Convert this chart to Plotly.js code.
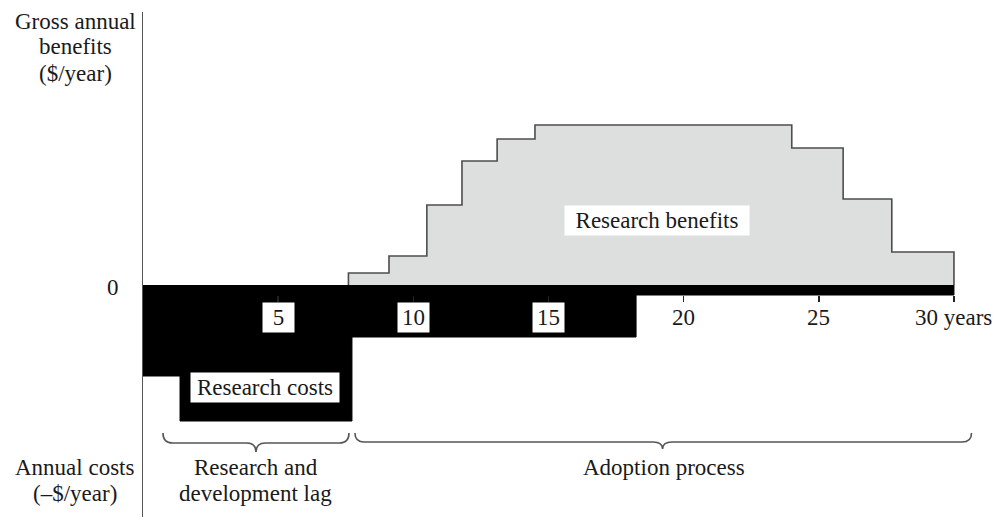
<!DOCTYPE html>
<html>
<head>
<meta charset="utf-8">
<script src="https://cdn.plot.ly/plotly-3.0.1.min.js"></script>
<style>html,body{margin:0;padding:0;background:#fff;}#chart{width:1001px;height:517px;}</style>
</head>
<body>
<div id="chart"></div>
<script>
// Step boundaries (years) and gross annual benefits (arbitrary $/year units)
const benefitYears  = [7.6, 7.6, 9.1, 10.5, 11.8, 13.1, 14.5, 24.0, 25.9, 27.7, 30.0];
const benefitValues = [0, 12, 29, 80, 124, 146, 160, 137, 86, 33, 0];
// Step boundaries (years) and annual costs (negative $/year units)
const costYears  = [0, 0, 1.37, 7.73, 18.24, 30.0];
const costValues = [0, -91, -136, -52, -10, 0];
// Axis tick labels
const tickYears  = [5, 10, 15, 20, 25, 30];
const tickLabels = ["5", "10", "15", "20", "25", "30 years"];
const boxedTicks = [true, true, true, false, false, false];

const FONT = '"Liberation Serif", "Times New Roman", serif';
const FS = 23;
const TXT = '#1a1a1a';

const traces = [
  {x: benefitYears, y: benefitValues, type: 'scatter', mode: 'lines',
   line: {shape: 'hv', color: '#4d4d4d', width: 1.6},
   fill: 'tozeroy', fillcolor: '#dcdfde', hoverinfo: 'skip'},
  {x: costYears, y: costValues, type: 'scatter', mode: 'lines',
   line: {shape: 'hv', color: '#000', width: 1},
   fill: 'tozeroy', fillcolor: '#000', hoverinfo: 'skip'}
];

const ann = [];
tickYears.forEach((t, i) => {
  const a = {x: t, y: -32, xref: 'x', yref: 'y', text: tickLabels[i], showarrow: false,
    font: {family: FONT, size: FS, color: TXT}, xanchor: 'center', yanchor: 'middle'};
  if (boxedTicks[i]) { a.bgcolor = '#fff'; a.width = 29; a.height = 27; }
  ann.push(a);
});
ann.push({x: 4.51, y: -102, xref: 'x', yref: 'y', text: 'Research costs', showarrow: false,
  bgcolor: '#fff', width: 146, height: 27, font: {family: FONT, size: FS, color: TXT}});
ann.push({x: 19.0, y: 65, xref: 'x', yref: 'y', text: 'Research benefits', showarrow: false,
  bgcolor: '#fff', width: 182, height: 27, font: {family: FONT, size: FS, color: TXT}});
// labels below the braces
ann.push({x: 4.18, y: -182, xref: 'x', yref: 'y', text: 'Research and', showarrow: false, font: {family: FONT, size: FS, color: TXT}});
ann.push({x: 4.18, y: -208, xref: 'x', yref: 'y', text: 'development lag', showarrow: false, font: {family: FONT, size: FS, color: TXT}});
ann.push({x: 19.27, y: -182, xref: 'x', yref: 'y', text: 'Adoption process', showarrow: false, font: {family: FONT, size: FS, color: TXT}});

// axis texts outside plot area (paper coords)
const W = 858, H = 505;
function px(x){ return (x - 143) / W; }
function py(y){ return (517 - y) / H; }
[['Gross annual', 21], ['benefits', 47], ['($/year)', 73], ['Annual costs', 467], ['(\u2013$/year)', 493]].forEach(([t, y]) => {
  ann.push({x: px(75), y: py(y), xref: 'paper', yref: 'paper', text: t, showarrow: false,
    xanchor: 'center', yanchor: 'middle', font: {family: FONT, size: FS, color: TXT}});
});
ann.push({x: px(113), y: py(287), xref: 'paper', yref: 'paper', text: '0', showarrow: false,
  xanchor: 'center', yanchor: 'middle', font: {family: FONT, size: FS, color: TXT}});

function brace(x1, x2, mid, y0, y1, y2) {
  const d = 0.35;
  return `M ${x1},${y0} Q ${x1},${y1} ${x1 + d},${y1} L ${mid - d},${y1} Q ${mid},${y1} ${mid},${y2} ` +
         `Q ${mid},${y1} ${mid + d},${y1} L ${x2 - d},${y1} Q ${x2},${y1} ${x2},${y0}`;
}
const shapes = [
  {type: 'path', xref: 'x', yref: 'y', path: brace(0.74, 7.62, 4.18, -148, -158, -167), line: {color: '#555', width: 1.6}},
  {type: 'path', xref: 'x', yref: 'y', path: brace(7.84, 30.65, 19.22, -148, -157, -164), line: {color: '#555', width: 1.6}}
];

const layout = {
  width: 1001, height: 517,
  margin: {l: 143, r: 0, t: 12, b: 0},
  paper_bgcolor: '#fff', plot_bgcolor: '#fff',
  showlegend: false,
  xaxis: {range: [0, 31.74], showgrid: false, zeroline: false, showline: false,
          tickvals: tickYears, ticks: 'outside', ticklen: 6, tickcolor: '#222', tickwidth: 1.5,
          showticklabels: false, anchor: 'free', position: (517 - 295) / H, fixedrange: true},
  yaxis: {range: [-232, 273], showgrid: false, zeroline: false, showline: true,
          linecolor: '#555', linewidth: 1.5, ticks: '', showticklabels: false, fixedrange: true},
  annotations: ann,
  shapes: shapes
};
Plotly.newPlot('chart', traces, layout, {staticPlot: true, displayModeBar: false});
</script>
</body>
</html>
